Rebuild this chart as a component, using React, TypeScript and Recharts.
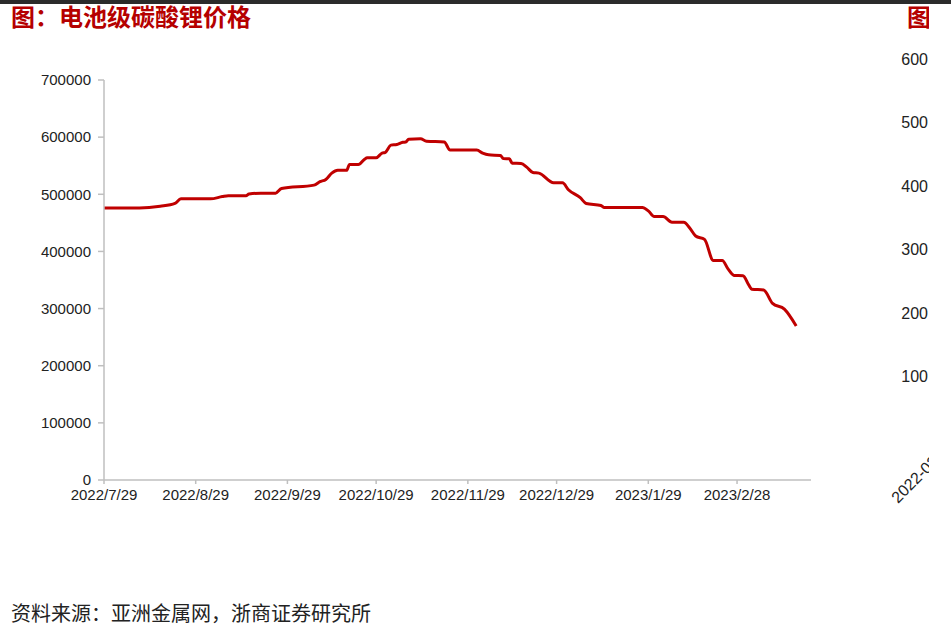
import { LineChart, Line, XAxis, YAxis } from 'recharts';

// days counted from 2022/7/29, price in yuan/ton
const days = [
  0, 12, 19, 24, 26, 36, 40, 42, 48, 49, 53, 58, 60, 71, 73, 75, 77, 79, 82, 83, 86, 88, 89, 92,
  94, 95, 97, 99, 101, 102, 103, 107, 109, 115, 117, 126, 128, 130, 134, 135, 137, 138, 141, 143,
  145, 147, 152, 155, 157, 161, 163, 168, 169, 182, 184, 186, 189, 192, 196, 198, 200, 203, 206,
  209, 211, 213, 216, 218, 219, 223, 226, 230, 234,
];
const prices = [
  476000, 476000, 479000, 484000, 492000, 492000, 496000, 497500, 497500, 500500, 502000, 502000,
  510000, 516000, 522000, 526000, 537000, 542000, 542000, 552000, 552000, 561000, 564000, 564000,
  572000, 573000, 586000, 587000, 591000, 591500, 596500, 597000, 593000, 591500, 577500, 577500,
  572000, 569000, 568000, 562500, 562000, 554500, 554000, 547000, 538000, 537000, 520000, 520000,
  508000, 494000, 484000, 480500, 477000, 477000, 471000, 461000, 461000, 451000, 451000, 441000,
  427000, 421000, 384000, 384000, 369000, 358000, 357500, 341000, 334000, 332500, 309000, 299000,
  269500,
];

const tickDays = [0, 31, 62, 92, 123, 153, 184, 214];
const tickLabels = [
  '2022/7/29', '2022/8/29', '2022/9/29', '2022/10/29',
  '2022/11/29', '2022/12/29', '2023/1/29', '2023/2/28',
];
const yTicks = [0, 100000, 200000, 300000, 400000, 500000, 600000, 700000];
const rightTicks = ['600', '500', '400', '300', '200', '100'];

const data = days.map((d, i) => ({ day: d, price: prices[i] }));

const axisFont = { fontSize: 15, fill: '#222', fontFamily: '"Liberation Sans", Arial, sans-serif' };

export default function App() {
  return (
    <div style={{ position: 'relative', width: 951, height: 630, background: '#fff', overflow: 'hidden' }}>
      <style>{`body{margin:0}`}</style>
      <div style={{ position: 'absolute', left: 0, top: 0, width: 951, height: 4, background: '#2b2b2b' }} />
      <div
        style={{
          position: 'absolute',
          left: 11,
          top: 1,
          fontSize: 24,
          fontWeight: 'bold',
          color: '#b50000',
          fontFamily: '"Noto Sans CJK SC", sans-serif',
          lineHeight: '30px',
          whiteSpace: 'nowrap',
        }}
      >
        图：电池级碳酸锂价格
      </div>

      <div style={{ position: 'absolute', left: 0, top: 0 }}>
        <LineChart width={830} height={520} data={data} margin={{ top: 80, right: 19, left: 0, bottom: 0 }}>
          <XAxis
            dataKey="day"
            type="number"
            domain={[0, 239]}
            ticks={tickDays}
            tickFormatter={(v) => tickLabels[tickDays.indexOf(v)] ?? ''}
            interval={0}
            height={40}
            tick={axisFont}
            tickSize={4}
            tickMargin={5}
            stroke="#bfbfbf"
            strokeWidth={1.5}
          />
          <YAxis
            domain={[0, 700000]}
            ticks={yTicks}
            interval={0}
            width={104}
            tick={axisFont}
            tickSize={6}
            tickMargin={7}
            stroke="#bfbfbf"
            strokeWidth={1.5}
          />
          <Line
            type="monotone"
            dataKey="price"
            stroke="#c00000"
            strokeWidth={3}
            dot={false}
            isAnimationActive={false}
          />
        </LineChart>
      </div>

      {/* neighbouring chart, cut off at the right edge */}
      <div style={{ position: 'absolute', left: 860, top: 0, width: 69, height: 540, overflow: 'hidden' }}>
        <div
          style={{
            position: 'absolute',
            left: 47,
            top: 1,
            fontSize: 24,
            fontWeight: 'bold',
            color: '#b50000',
            fontFamily: '"Noto Sans CJK SC", sans-serif',
            lineHeight: '30px',
            whiteSpace: 'nowrap',
          }}
        >
          图
        </div>
        {rightTicks.map((t, i) => (
          <div
            key={t}
            style={{
              position: 'absolute',
              right: 1,
              top: 60 + i * 63.4 - 9,
              fontSize: 16,
              lineHeight: '18px',
              color: '#222',
              fontFamily: '"Liberation Sans", Arial, sans-serif',
            }}
          >
            {t}
          </div>
        ))}
        <div
          style={{
            position: 'absolute',
            left: 28,
            top: 494,
            fontSize: 16,
            lineHeight: '18px',
            color: '#222',
            fontFamily: '"Liberation Sans", Arial, sans-serif',
            transform: 'rotate(-45deg)',
            transformOrigin: '0 0',
            whiteSpace: 'nowrap',
          }}
        >
          2022-03-03
        </div>
      </div>

      <div
        style={{
          position: 'absolute',
          left: 11,
          top: 599,
          fontSize: 20,
          color: '#222',
          fontFamily: '"Noto Sans CJK SC", sans-serif',
          lineHeight: '28px',
          whiteSpace: 'nowrap',
        }}
      >
        资料来源：亚洲金属网，浙商证券研究所
      </div>
    </div>
  );
}
